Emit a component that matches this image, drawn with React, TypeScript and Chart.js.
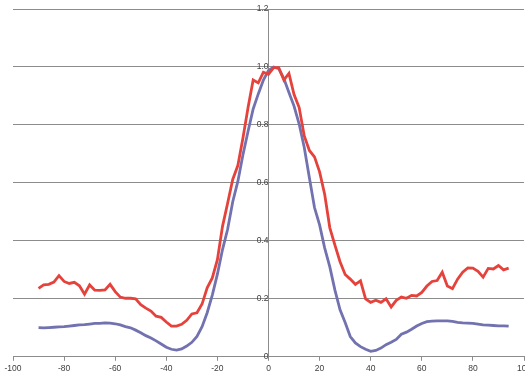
import React, { useEffect, useRef } from "react";
import { Chart, registerables } from "chart.js";

Chart.register(...registerables);

const angles = [
  -90, -88, -86, -84, -82, -80, -78, -76, -74, -72, -70, -68, -66, -64, -62, -60,
  -58, -56, -54, -52, -50, -48, -46, -44, -42, -40, -38, -36, -34, -32, -30, -28,
  -26, -24, -22, -20, -18, -16, -14, -12, -10, -8, -6, -4, -2, 0, 2, 4, 6, 8, 10,
  12, 14, 16, 18, 20, 22, 24, 26, 28, 30, 32, 34, 36, 38, 40, 42, 44, 46, 48, 50,
  52, 54, 56, 58, 60, 62, 64, 66, 68, 70, 72, 74, 76, 78, 80, 82, 84, 86, 88, 90,
  92, 94,
];

const redSeries = [
  0.236, 0.248, 0.25, 0.258, 0.28, 0.26, 0.253, 0.257, 0.245, 0.216, 0.248, 0.23,
  0.229, 0.231, 0.25, 0.225, 0.206, 0.202, 0.202, 0.2, 0.18, 0.168, 0.158, 0.14,
  0.136, 0.12, 0.106, 0.106, 0.112, 0.126, 0.148, 0.152, 0.182, 0.238, 0.272,
  0.335, 0.45, 0.53, 0.612, 0.66, 0.755, 0.86, 0.955, 0.945, 0.982, 0.975, 0.998,
  0.998, 0.955, 0.978, 0.905, 0.86, 0.762, 0.712, 0.69, 0.638, 0.56, 0.445, 0.385,
  0.328, 0.284, 0.268, 0.25, 0.262, 0.2, 0.188, 0.195, 0.188, 0.2, 0.172, 0.195,
  0.206, 0.202, 0.212, 0.21, 0.222, 0.244, 0.26, 0.263, 0.292, 0.244, 0.235, 0.268,
  0.292, 0.307, 0.306, 0.295, 0.275, 0.305, 0.303, 0.315, 0.3, 0.306,
];

const blueSeries = [
  0.101, 0.1, 0.101, 0.102, 0.103, 0.104, 0.106, 0.108, 0.11, 0.111, 0.113, 0.115,
  0.115, 0.117, 0.116, 0.114, 0.11, 0.104, 0.1, 0.092, 0.083, 0.073, 0.065, 0.055,
  0.044, 0.033, 0.026, 0.023, 0.027, 0.037, 0.05, 0.07, 0.104, 0.152, 0.213, 0.285,
  0.37, 0.44, 0.535, 0.605, 0.697, 0.778, 0.855, 0.907, 0.955, 0.988, 1.0, 0.994,
  0.96, 0.912, 0.865, 0.803, 0.722, 0.618, 0.515, 0.455, 0.375, 0.31, 0.23, 0.162,
  0.118, 0.07, 0.048, 0.035, 0.026, 0.019, 0.022, 0.03, 0.042, 0.05, 0.06, 0.078,
  0.085, 0.095, 0.106, 0.115, 0.121, 0.123, 0.124, 0.124, 0.124, 0.122, 0.119,
  0.117, 0.116, 0.115, 0.113, 0.11, 0.109, 0.108, 0.107, 0.107, 0.106,
];

const xMin = -100;
const xMax = 100;
const xStep = 20;
const yMin = 0;
const yMax = 1.2;
const yStep = 0.2;

const GRID = "#8c8c8c";
const TEXT = "#404040";
const FONT = { family: "'Liberation Sans', Arial, sans-serif", size: 8.5 };

export default function App() {
  const ref = useRef<HTMLCanvasElement | null>(null);

  useEffect(() => {
    if (!ref.current) return;
    const toPts = (ys: number[]) => angles.map((x, i) => ({ x, y: ys[i] }));
    const chart = new Chart(ref.current, {
      type: "scatter",
      data: {
        datasets: [
          {
            data: toPts(redSeries),
            showLine: true,
            borderColor: "rgb(230,66,60)",
            backgroundColor: "rgb(230,66,60)",
            borderWidth: 2.8,
            pointRadius: 0,
            tension: 0,
          },
          {
            data: toPts(blueSeries),
            showLine: true,
            borderColor: "rgb(114,114,176)",
            backgroundColor: "rgb(114,114,176)",
            borderWidth: 2.8,
            pointRadius: 0,
            tension: 0,
          },
        ],
      },
      options: {
        responsive: false,
        animation: false,
        devicePixelRatio: 1,
        layout: { padding: { left: 13, right: 21, top: 9, bottom: 2 } },
        plugins: { legend: { display: false }, tooltip: { enabled: false } },
        scales: {
          x: {
            type: "linear",
            min: xMin,
            max: xMax,
            ticks: { stepSize: xStep, color: TEXT, font: FONT, padding: 3, maxRotation: 0, autoSkip: false },
            grid: { drawOnChartArea: false, drawTicks: true, tickLength: 4, color: GRID },
            border: { display: true, color: GRID },
          },
          y: {
            type: "linear",
            position: { x: 0 } as any,
            min: yMin,
            max: yMax,
            ticks: { stepSize: yStep, color: TEXT, font: FONT, padding: 1 },
            grid: { color: GRID, tickLength: 4 },
            border: { display: true, color: GRID },
          },
        },
      },
    });
    return () => chart.destroy();
  }, []);

  return (
    <div style={{ position: "fixed", left: 0, top: 0, width: 531, height: 379, background: "#fff" }}>
      <div style={{ width: 525, height: 379, overflow: "hidden" }}>
        <canvas ref={ref} width={545} height={379} style={{ display: "block" }} />
      </div>
    </div>
  );
}
